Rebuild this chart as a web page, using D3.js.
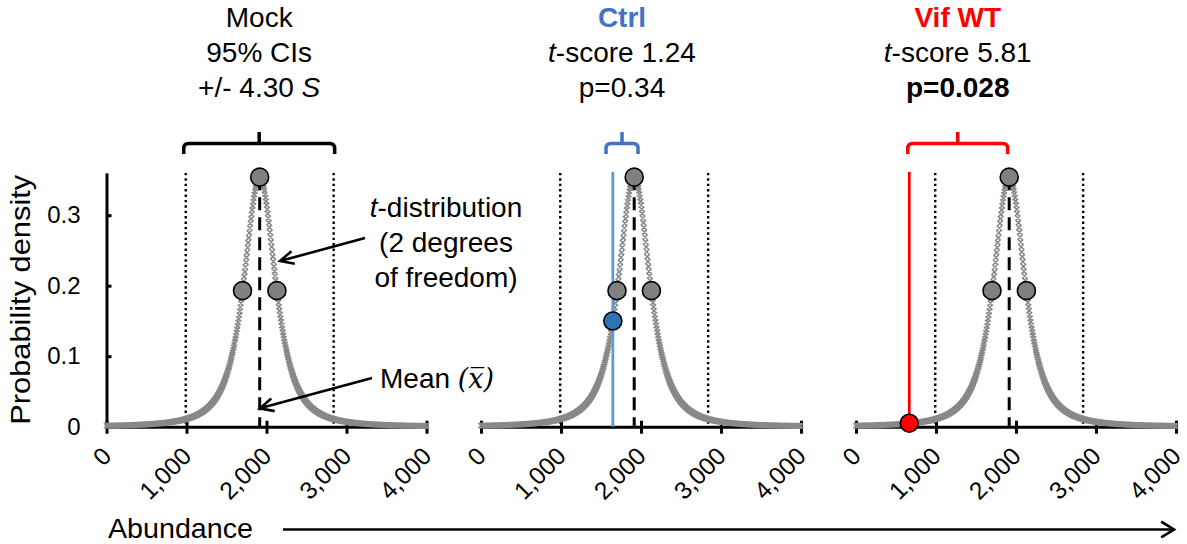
<!DOCTYPE html>
<html><head><meta charset="utf-8">
<script src="https://cdn.jsdelivr.net/npm/d3@7"></script>
<style>
body{margin:0;background:#fff}
svg{display:block}
text{font-family:Arial,"Liberation Sans",sans-serif;fill:#000}
</style>
</head><body>
<svg id="c" width="1187" height="544"></svg>
<script>
// ---------------- data ----------------
const panels = ["Mock", "Ctrl", "Vif WT"];
const panelColors = ["#000000", "#4472C4", "#FF0000"];
const xTickValues = [0, 1000, 2000, 3000, 4000];
const yTickValues = [0, 0.1, 0.2, 0.3];
const mockMean = 1915;          // mean abundance of Mock (dashed line)
const mockS = 215;              // standard error S
const degreesOfFreedom = 2;
const tCritical = 4.30;         // 95% CI = mean +/- 4.30 S
const replicateAbundance = [1700, 1915, 2130];   // grey circles
const replicateDensity = [0.193, 0.354, 0.193];
const sampleAbundance = [null, 1648, 666];       // Ctrl, Vif WT
const sampleDensity = [null, 0.150, 0.005];
const tScores = [null, "1.24", "5.81"];
const pValues = [null, "0.34", "0.028"];
const sampleFill = [null, "#2E75B6", "#FF0000"];
const sampleLine = [null, "#5B9BD5", "#FF0000"];

// Student t density (the plotted curve is the t-distribution with 2 d.f.)
function tDensity(t, nu) {
  const c = Math.exp(lgamma((nu + 1) / 2) - lgamma(nu / 2)) / Math.sqrt(nu * Math.PI);
  return c * Math.pow(1 + t * t / nu, -(nu + 1) / 2);
}
function lgamma(z) { // Lanczos
  const g = 7, p = [0.99999999999980993, 676.5203681218851, -1259.1392167224028, 771.32342877765313,
    -176.61502916214059, 12.507343278686905, -0.13857109526572012, 9.9843695780195716e-6, 1.5056327351493116e-7];
  if (z < 0.5) return Math.log(Math.PI / Math.sin(Math.PI * z)) - lgamma(1 - z);
  z -= 1; let a = p[0]; const t = z + g + 0.5;
  for (let i = 1; i < g + 2; i++) a += p[i] / (z + i);
  return 0.5 * Math.log(2 * Math.PI) + (z + 0.5) * Math.log(t) - t + Math.log(a);
}
const curveAbundance = d3.range(0, 4000.001, 7);

// ---------------- layout ----------------
const svg = d3.select("#c");
const panelLeft = [106.5, 481, 856];
const panelWidth = 320;
const y = d3.scaleLinear().domain([0, 0.36]).range([426.7, 172.9]);
const FS = 28;

function arrow(g, x1, y1, x2, y2, len, ang) {
  const a = Math.atan2(y2 - y1, x2 - x1);
  const p = (s) => [x2 - len * Math.cos(a + s * ang), y2 - len * Math.sin(a + s * ang)];
  const w1 = p(1), w2 = p(-1);
  g.append("path")
    .attr("d", `M${x1},${y1}L${x2},${y2}M${w1[0]},${w1[1]}L${x2},${y2}L${w2[0]},${w2[1]}`)
    .attr("fill", "none").attr("stroke", "#000").attr("stroke-width", 2.6)
    .attr("stroke-linejoin", "miter");
}

panels.forEach((name, i) => {
  const x = d3.scaleLinear().domain([0, 4000]).range([panelLeft[i], panelLeft[i] + panelWidth]);
  const g = svg.append("g");

  // x axis
  const ax = g.append("g").attr("transform", `translate(0,${y(0)})`)
    .call(d3.axisBottom(x).tickValues(xTickValues).tickFormat(d3.format(",")).tickSize(0).tickSizeOuter(0));
  ax.select(".domain").attr("stroke", "#000").attr("stroke-width", 3);
  ax.selectAll(".tick line").attr("y1", -6).attr("y2", 7).attr("stroke", "#000").attr("stroke-width", 3);
  ax.selectAll(".tick text").attr("x", 0).attr("y", 0).attr("dy", 0)
    .attr("transform", "translate(6,31) rotate(-45)").attr("text-anchor", "end")
    .attr("font-size", 24.5).attr("font-family", "Arial, 'Liberation Sans', sans-serif").attr("fill", "#000");

  // y axis only on first panel
  if (i === 0) {
    const ay = g.append("g").attr("transform", `translate(${panelLeft[0]},0)`)
      .call(d3.axisLeft(y).tickValues(yTickValues).tickFormat(d => d === 0 ? "0" : d3.format(".1f")(d))
        .tickSize(-5).tickSizeOuter(0).tickPadding(26));
    ay.select(".domain").attr("stroke", "#000").attr("stroke-width", 3);
    ay.selectAll(".tick line").attr("stroke", "#000").attr("stroke-width", 3);
    ay.selectAll(".tick text").attr("font-size", 24).attr("font-family", "Arial, 'Liberation Sans', sans-serif").attr("fill", "#000");
  }

  // CI dotted lines
  [mockMean - tCritical * mockS, mockMean + tCritical * mockS].forEach(v => {
    g.append("line").attr("x1", x(v)).attr("x2", x(v)).attr("y1", y(0.36)).attr("y2", y(0))
      .attr("stroke", "#000").attr("stroke-width", 2.4).attr("stroke-dasharray", "2.4,3");
  });

  // t-distribution curve (x markers)
  let d = "";
  curveAbundance.forEach(a => {
    const px = x(a), py = y(tDensity((a - mockMean) / mockS, degreesOfFreedom));
    d += `M${px - 2.6},${py - 2.6}l5.2,5.2m0,-5.2l-5.2,5.2`;
  });
  g.append("path").attr("d", d).attr("fill", "none").attr("stroke", "#888").attr("stroke-width", 1.5);

  // mean dashed line
  g.append("line").attr("x1", x(mockMean)).attr("x2", x(mockMean))
    .attr("y1", y(replicateDensity[1])).attr("y2", y(0))
    .attr("stroke", "#000").attr("stroke-width", 3).attr("stroke-dasharray", "13,7");

  // sample vertical line
  if (sampleAbundance[i] != null) {
    g.append("line").attr("x1", x(sampleAbundance[i])).attr("x2", x(sampleAbundance[i]))
      .attr("y1", y(0.36) - 1).attr("y2", y(0))
      .attr("stroke", sampleLine[i]).attr("stroke-width", 2.8);
  }

  // replicate circles
  g.selectAll("circle.rep").data(replicateAbundance).join("circle").attr("class", "rep")
    .attr("cx", a => x(a)).attr("cy", (a, k) => y(replicateDensity[k])).attr("r", 9)
    .attr("fill", "#808080").attr("stroke", "#000").attr("stroke-width", 1.6);

  if (sampleAbundance[i] != null) {
    g.append("circle").attr("cx", x(sampleAbundance[i])).attr("cy", y(sampleDensity[i])).attr("r", 9)
      .attr("fill", sampleFill[i]).attr("stroke", "#000").attr("stroke-width", 1.6);
  }

  // brace
  let bx1, bx2;
  if (i === 0) { bx1 = x(mockMean - tCritical * mockS) - 2; bx2 = x(mockMean + tCritical * mockS) + 1; }
  else { bx1 = x(sampleAbundance[i]) - 1.5; bx2 = x(mockMean) - 1.5; }
  let xc = (bx1 + bx2) / 2;
  if (bx2 - bx1 < 32) { bx1 = xc - 16; bx2 = xc + 16; }
  const yh = 143.5, yb = 154, ytip = 132, r = 5;
  g.append("path")
    .attr("d", `M${bx1},${yb}L${bx1},${yh + r}Q${bx1},${yh} ${bx1 + r},${yh}L${bx2 - r},${yh}Q${bx2},${yh} ${bx2},${yh + r}L${bx2},${yb}M${xc},${yh}L${xc},${ytip}`)
    .attr("fill", "none").attr("stroke", panelColors[i]).attr("stroke-width", 3.5);

  // titles
  const t = g.append("text").attr("text-anchor", "middle").attr("font-size", FS);
  if (i === 0) {
    t.append("tspan").attr("x", xc).attr("y", 27).text(name);
    t.append("tspan").attr("x", xc).attr("y", 62).text("95% CIs");
    const l3 = t.append("tspan").attr("x", xc).attr("y", 97);
    l3.text("+/- " + tCritical.toFixed(2) + " ");
    t.append("tspan").attr("font-style", "italic").text("S");
  } else {
    t.append("tspan").attr("x", xc).attr("y", 27).attr("font-weight", "bold")
      .attr("fill", panelColors[i]).style("fill", panelColors[i]).text(name);
    t.append("tspan").attr("x", xc).attr("y", 62).attr("font-style", "italic").text("t");
    t.append("tspan").text("-score " + tScores[i]);
    t.append("tspan").attr("x", xc).attr("y", 97).attr("font-weight", i === 2 ? "bold" : "normal")
      .text("p=" + pValues[i]);
  }

  if (i === 0) {
    // annotations
    const an = g.append("text").attr("text-anchor", "middle").attr("font-size", FS);
    an.append("tspan").attr("x", 446).attr("y", 217).attr("font-style", "italic").text("t");
    an.append("tspan").text("-distribution");
    an.append("tspan").attr("x", 446).attr("y", 252).text("(2 degrees");
    an.append("tspan").attr("x", 446).attr("y", 287).text("of freedom)");
    arrow(g, 365, 238, x(2170), y(0.235), 15, 0.45);

    const mn = g.append("text").attr("x", 380).attr("y", 388).attr("font-size", FS);
    mn.append("tspan").text("Mean ");
    mn.append("tspan").attr("font-family", "'DejaVu Serif', serif").attr("font-style", "italic")
      .attr("font-size", 27).text("(x\u0305)");
    arrow(g, 372, 378, x(1918), y(0.026), 15, 0.45);
  }
});

// y label
svg.append("text").attr("transform", `translate(30,${(y(0) + y(0.36)) / 2}) rotate(-90)`)
  .attr("text-anchor", "middle").attr("font-size", FS)
  .attr("textLength", 250).attr("lengthAdjust", "spacingAndGlyphs")
  .text("Probability density");

// Abundance label + arrow
svg.append("text").attr("x", 108).attr("y", 538).attr("font-size", FS)
  .attr("textLength", 145).attr("lengthAdjust", "spacingAndGlyphs").text("Abundance");
arrow(svg, 283, 529.5, 1174, 529.5, 15, 0.55);
</script>
</body></html>
